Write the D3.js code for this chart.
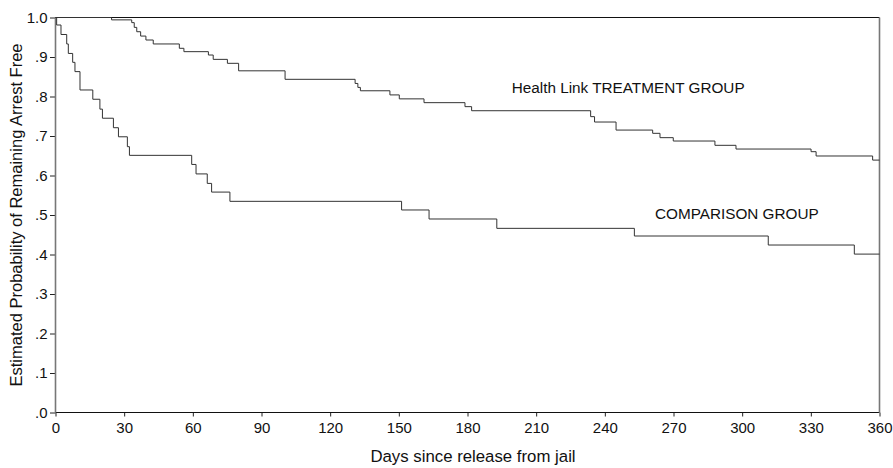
<!DOCTYPE html>
<html>
<head>
<meta charset="utf-8">
<script src="https://cdn.jsdelivr.net/npm/d3@7"></script>
<style>
  body { margin: 0; background: #fff; }
  svg text { font-family: "Liberation Sans", Arial, sans-serif; fill: #111; }
</style>
</head>
<body>
<div id="chart"></div>
<script>
// survival estimates (day of step, value after step)
const treatmentDays = [0, 24.5, 33.3, 34.4, 35.5, 37.2, 39.5, 42.7, 54.1, 56.1, 66.8, 68.9, 75.1, 80, 100.3,
  130.9, 132.1, 133.2, 146.1, 150.2, 161, 178.9, 181.8, 233.8, 235.5, 244.9, 260.9, 264.1, 269.9,
  288.1, 297.3, 330.1, 332.3, 357];
const treatmentValues = [1.0, 0.994, 0.987, 0.975, 0.964, 0.953, 0.943, 0.933, 0.922, 0.9135, 0.905, 0.894, 0.884, 0.865, 0.8435,
  0.833, 0.823, 0.8145, 0.804, 0.794, 0.7844, 0.7743, 0.764, 0.749, 0.7354, 0.715, 0.7068, 0.6958, 0.6873,
  0.6764, 0.667, 0.6603, 0.6494, 0.639];

const comparisonDays = [0, 0.5, 2.4, 4.9, 5.6, 7.5, 8.5, 10.7, 16.3, 19.4, 20.5, 25.3, 27.5, 31.4, 32.3,
  59.5, 61.4, 66.3, 68.2, 76.2, 151.2, 163.2, 192.8, 252.9, 311.4, 349];
const comparisonValues = [1.0, 0.981, 0.957, 0.933, 0.909, 0.8865, 0.863, 0.8165, 0.793, 0.768, 0.745, 0.721, 0.698, 0.673, 0.651,
  0.628, 0.604, 0.580, 0.558, 0.5346, 0.5127, 0.4899, 0.4662, 0.4468, 0.424, 0.401];

const xTicks = [0, 30, 60, 90, 120, 150, 180, 210, 240, 270, 300, 330, 360];
const yTicks = [0, 0.1, 0.2, 0.3, 0.4, 0.5, 0.6, 0.7, 0.8, 0.9, 1.0];

const W = 893, H = 468;
const margin = { top: 17.5, right: 13.5, bottom: 55.5, left: 55.5 };

const svg = d3.select('#chart').append('svg')
  .attr('width', W)
  .attr('height', H);

const x = d3.scaleLinear().domain([0, 360]).range([margin.left, W - margin.right]);
const y = d3.scaleLinear().domain([0, 1]).range([H - margin.bottom, margin.top]);

// y tick label: "1.0", ".9" ... ".0"
const yFmt = d => d === 1 ? '1.0' : '.' + Math.round(d * 10);

// axes
const xAxis = svg.append('g')
  .attr('transform', `translate(0,${y(0)})`)
  .call(d3.axisBottom(x).tickValues(xTicks).tickSize(4).tickSizeOuter(0).tickPadding(6));
const yAxis = svg.append('g')
  .attr('transform', `translate(${x(0)},0)`)
  .call(d3.axisLeft(y).tickValues(yTicks).tickFormat(yFmt).tickSize(5.5).tickSizeOuter(0).tickPadding(2.5));

[xAxis, yAxis].forEach(g => {
  g.selectAll('text').style('font-size', '15px').attr('fill', '#111');
  g.selectAll('.tick line').attr('stroke', '#222');
  g.select('.domain').remove();
});

// frame: top/bottom dark, sides gray
svg.append('line')
  .attr('x1', x(0)).attr('x2', x(360)).attr('y1', y(1)).attr('y2', y(1))
  .attr('stroke', '#111').attr('stroke-width', 1.2);
svg.append('line')
  .attr('x1', x(0)).attr('x2', x(360)).attr('y1', y(0)).attr('y2', y(0))
  .attr('stroke', '#111').attr('stroke-width', 1.2);
svg.append('line')
  .attr('x1', x(0)).attr('x2', x(0)).attr('y1', y(1)).attr('y2', y(0))
  .attr('stroke', '#777').attr('stroke-width', 1.6);
svg.append('line')
  .attr('x1', x(360)).attr('x2', x(360)).attr('y1', y(1)).attr('y2', y(0))
  .attr('stroke', '#777').attr('stroke-width', 1.6);

// step curves
const line = d3.line()
  .x(d => x(d[0]))
  .y(d => y(d[1]))
  .curve(d3.curveStepAfter);

function steps(days, values) {
  const pts = days.map((d, i) => [d, values[i]]);
  pts.push([360, values[values.length - 1]]);
  return pts;
}

svg.append('path')
  .datum(steps(treatmentDays, treatmentValues))
  .attr('d', line)
  .attr('fill', 'none')
  .attr('stroke', '#333')
  .attr('stroke-width', 1);

svg.append('path')
  .datum(steps(comparisonDays, comparisonValues))
  .attr('d', line)
  .attr('fill', 'none')
  .attr('stroke', '#333')
  .attr('stroke-width', 1);

// labels on curves
svg.append('text')
  .attr('x', x(199.3))
  .attr('y', y(0.8076))
  .style('font-size', '15.3px')
  .text('Health Link TREATMENT GROUP');

svg.append('text')
  .attr('x', x(261.9))
  .attr('y', y(0.491))
  .style('font-size', '15.3px')
  .text('COMPARISON GROUP');

// axis titles
svg.append('text')
  .attr('x', 473)
  .attr('y', 461.5)
  .attr('text-anchor', 'middle')
  .style('font-size', '16.8px')
  .text('Days since release from jail');

svg.append('text')
  .attr('transform', `translate(22,${(y(0) + y(1)) / 2}) rotate(-90)`)
  .attr('text-anchor', 'middle')
  .style('font-size', '16.5px')
  .text('Estimated Probability of Remaining Arrest Free');
</script>
</body>
</html>
